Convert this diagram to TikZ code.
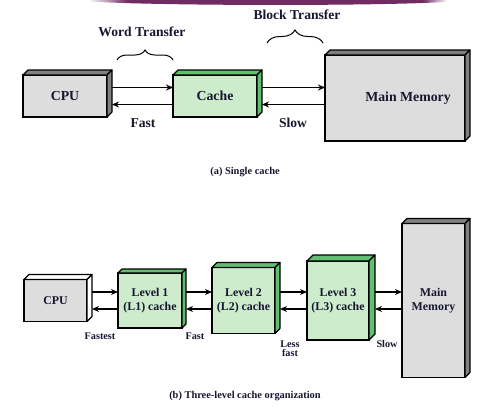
\documentclass[tikz,border=0pt]{standalone}
\usepackage{fontspec}
\setmainfont{Liberation Serif}
\definecolor{txtnavy}{RGB}{22,22,48}
\definecolor{boxgray}{RGB}{221,221,221}
\definecolor{sidegray}{RGB}{128,128,128}
\definecolor{cachegreen}{RGB}{205,236,204}
\definecolor{sidegreen}{RGB}{98,190,112}
\definecolor{barpurple}{RGB}{112,44,98}
\usetikzlibrary{arrows.meta, decorations.pathreplacing}
\pgfdeclarehorizontalshading{barfade}{100bp}{color(0bp)=(white); color(25bp)=(white); color(30.5bp)=(barpurple); color(71.5bp)=(barpurple); color(75bp)=(white); color(100bp)=(white)}
\tikzset{
	unitbox/.style={rectangle, draw=black, line width=1.1pt, inner sep=0pt, outer sep=0pt, align=center, text=txtnavy, font=\bfseries\fontsize{13.8}{15}\selectfont},
	graybox/.style={unitbox, fill=boxgray},
	greenbox/.style={unitbox, fill=cachegreen},
	smallbox/.style={font=\bfseries\fontsize{11.9}{14}\selectfont},
	facedraw/.style={draw=black, line width=1.1pt, line join=round},
	tag/.style={text=txtnavy, inner sep=0pt, font=\bfseries\fontsize{13.6}{15}\selectfont},
	smalltag/.style={text=txtnavy, inner sep=0pt, align=center, font=\bfseries\fontsize{10.2}{9}\selectfont},
	caption/.style={text=txtnavy, inner sep=0pt, font=\bfseries\fontsize{10.4}{12}\selectfont},
	arrow/.style={-{Stealth[length=7pt, width=6pt]}, line width=1.1pt, draw=black},
	brace/.style={decorate, decoration={brace, amplitude=#1}, line width=1pt},
}
% top and right faces of a box node: name, depth, top colour, side colour
\newcommand{\boxfaces}[4]{%
	\filldraw[fill=#3, facedraw] (#1.north west) -- ++(#2,-#2) -- ([xshift=#2pt,yshift=#2pt]#1.north east) -- (#1.north east) -- cycle;
	\filldraw[fill=#4, facedraw] (#1.north east) -- ++(#2,-#2) -- ([xshift=#2pt,yshift=#2pt]#1.south east) -- (#1.south east) -- cycle;}
\begin{document}
\begin{tikzpicture}[x=1pt, y=-1pt]
	\useasboundingbox (0,0) rectangle (489,410);
	% header bar
	\shade[shading=barfade] (88,0) -- (448,0) -- (444,2) .. controls (380,6) and (160,6) .. (90,1.5) -- cycle;

	% (a) single cache
	\node[graybox, minimum width=84, minimum height=42] (cpuA) at (65,96) {CPU};
	\node[greenbox, minimum width=84, minimum height=42] (cacheA) at (215,96) {Cache};
	\node[graybox, minimum width=140, minimum height=86] (memA) at (395,98) {\hspace*{26pt}Main Memory};
	\boxfaces{cpuA}{5}{sidegray}{sidegray}
	\boxfaces{cacheA}{5}{sidegreen}{sidegreen}
	\boxfaces{memA}{5}{sidegray}{sidegray}
	\coordinate (a1) at ([xshift=5pt,yshift=8.5pt]cpuA.east);
	\coordinate (a2) at ([xshift=5pt,yshift=-8.5pt]cpuA.east);
	\coordinate (a3) at ([xshift=5pt,yshift=8.5pt]cacheA.east);
	\coordinate (a4) at ([xshift=5pt,yshift=-8.5pt]cacheA.east);
	\draw[arrow] (a1) -- (a1 -| cacheA.west);
	\draw[arrow] (a2 -| cacheA.west) -- (a2);
	\draw[arrow] (a3) -- (a3 -| memA.west);
	\draw[arrow] (a4 -| memA.west) -- (a4);
	\draw[brace=10pt] (117,60) coordinate (w1) -- (173,60) coordinate (w2);
	\draw[brace=13pt] (267,43) coordinate (b1) -- (323,43) coordinate (b2);
	\node[tag] (word) at (142,32) {Word Transfer};
	\node[tag] (block) at (297,15) {Block Transfer};
	\node[tag] (fastA) at (143,123) {Fast};
	\node[tag] (slowA) at (293,123) {Slow};
	\node[caption] (capA) at (245,172) {(a) Single cache};

	% (b) three-level cache
	\node[graybox, smallbox, minimum width=63, minimum height=42] (cpuB) at (55.5,300.5) {CPU};
	\node[greenbox, smallbox, minimum width=64, minimum height=55] (lone) at (150,300.5) {Level 1\\(L1) cache};
	\node[greenbox, smallbox, minimum width=63, minimum height=66] (ltwo) at (243.5,300.5) {Level 2\\(L2) cache};
	\node[greenbox, smallbox, minimum width=62, minimum height=79] (lthree) at (338,300.5) {Level 3\\(L3) cache};
	\node[graybox, smallbox, minimum width=63, minimum height=154] (memB) at (433.5,300.5) {Main\\Memory};
	\boxfaces{cpuB}{5}{white}{white}
	\boxfaces{lone}{4}{sidegreen}{sidegreen}
	\boxfaces{ltwo}{5}{sidegreen}{sidegreen}
	\boxfaces{lthree}{6}{sidegreen}{sidegreen}
	\boxfaces{memB}{5}{sidegray}{sidegray}
	\coordinate (c1) at ([xshift=5pt,yshift=8.5pt]cpuB.east);
	\coordinate (c2) at ([xshift=5pt,yshift=-8.5pt]cpuB.east);
	\coordinate (c3) at ([xshift=4pt,yshift=8.5pt]lone.east);
	\coordinate (c4) at ([xshift=4pt,yshift=-8.5pt]lone.east);
	\coordinate (c5) at ([xshift=5pt,yshift=8.5pt]ltwo.east);
	\coordinate (c6) at ([xshift=5pt,yshift=-8.5pt]ltwo.east);
	\coordinate (c7) at ([xshift=6pt,yshift=8.5pt]lthree.east);
	\coordinate (c8) at ([xshift=6pt,yshift=-8.5pt]lthree.east);
	\draw[arrow] (c1) -- (c1 -| lone.west);
	\draw[arrow] (c2 -| lone.west) -- (c2);
	\draw[arrow] (c3) -- (c3 -| ltwo.west);
	\draw[arrow] (c4 -| ltwo.west) -- (c4);
	\draw[arrow] (c5) -- (c5 -| lthree.west);
	\draw[arrow] (c6 -| lthree.west) -- (c6);
	\draw[arrow] (c7) -- (c7 -| memB.west);
	\draw[arrow] (c8 -| memB.west) -- (c8);
	\node[smalltag] (fastest) at (100,336) {Fastest};
	\node[smalltag] (fastB) at (195,336) {Fast};
	\node[smalltag] (lessfast) at (290,348.5) {Less\\fast};
	\node[smalltag] (slowB) at (387,344) {Slow};
	\node[caption] (capB) at (245,396) {(b) Three-level cache organization};
\end{tikzpicture}
\end{document}
